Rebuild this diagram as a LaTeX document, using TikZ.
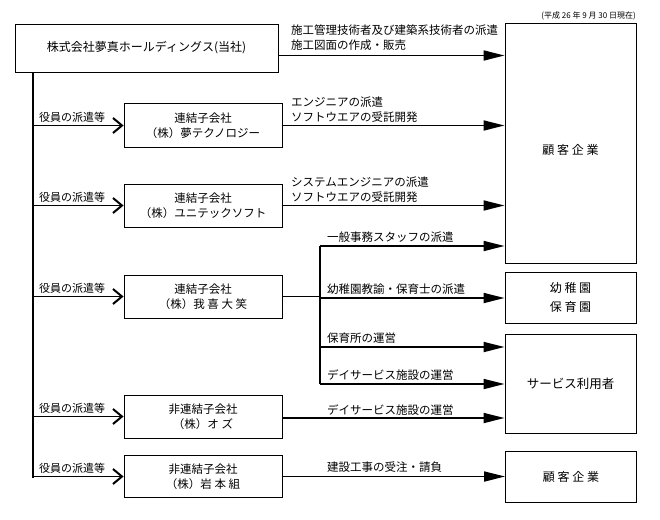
\documentclass[tikz,border=0pt]{standalone}
\usepackage{fontspec}
\setmainfont{Noto Sans CJK JP}
\usetikzlibrary{arrows.meta}
\begin{document}
\begin{tikzpicture}[x=1pt,y=-1pt,
  box/.style={draw,line width=0.9pt,inner sep=0pt,align=center,font=\fontsize{11.5}{15}\selectfont},
  lbl/.style={anchor=west,align=left,inner sep=0pt,font=\fontsize{11.5}{15}\selectfont},
  llbl/.style={anchor=south west,inner sep=0pt,font=\fontsize{11}{13}\selectfont},
  trunk/.style={line width=2.2pt},
  larrow/.style={line width=1.9pt,-{Straight Barb[length=9pt,width=15pt,line width=2pt]}},
  rarrow/.style={line width=1.7pt,-{Triangle[length=21pt,width=10pt]}},
  plain/.style={line width=1.4pt}]
\useasboundingbox (0,0) rectangle (660,519);
% date
\node[anchor=east,inner sep=0pt,font=\fontsize{8}{10}\selectfont] (date) at (636,16) {(平成 26 年 9 月 30 日現在)};
% parent
\node[box,minimum width=263pt,minimum height=48pt,font=\fontsize{12}{15}\selectfont] (top) at (146.5,48) {株式会社夢真ホールディングス(当社)};
% subsidiaries
\node[box,minimum width=158pt,minimum height=44pt] (b1) at (203,125.5) {連結子会社\\（株）夢テクノロジー};
\node[box,minimum width=158pt,minimum height=43pt] (b2) at (203,205.5) {連結子会社\\（株）ユニテックソフト};
\node[box,minimum width=158pt,minimum height=43pt] (b3) at (203,296.5) {連結子会社\\（株）我 喜 大 笑};
\node[box,minimum width=158pt,minimum height=43pt] (b4) at (203,416.5) {非連結子会社\\（株）オ ズ};
\node[box,minimum width=158pt,minimum height=42pt] (b5) at (203,476.5) {非連結子会社\\（株）岩 本 組};
% customers
\node[box,minimum width=131pt,minimum height=240pt] (c1) at (570.5,143) {};
\node[inner sep=0pt,font=\fontsize{12}{15}\selectfont] (c1t) at (570.5,150) {顧 客 企 業};
\node[box,minimum width=131pt,minimum height=51pt,font=\fontsize{12}{19}\selectfont] (c2) at (570.5,297.5) {幼 稚 園\\保 育 園};
\node[box,minimum width=131pt,minimum height=99pt,font=\fontsize{12.5}{15}\selectfont] (c3) at (570.5,383.5) {サービス利用者};
\node[box,minimum width=131pt,minimum height=51pt,font=\fontsize{12}{15}\selectfont] (c4) at (571,476.5) {顧 客 企 業};
% trunk
\coordinate (t0) at (33,72);
\coordinate (t1) at (33,125.5);
\coordinate (t2) at (33,205.5);
\coordinate (t3) at (33,296.5);
\coordinate (t4) at (33,416.5);
\coordinate (t5) at (33,476.5);
\draw[trunk] (t0) -- (33,477.5);
\foreach \i in {1,...,5} {
  \draw[larrow] (t\i) -- (b\i.west);
  \node[llbl] at ([xshift=6pt,yshift=3pt]t\i) {役員の派遣等};
}
% right arrows
\coordinate (a0) at (278,55.5);
\draw[rarrow] (a0) -- (a0 -| c1.west);
\node[lbl] at (291,37.5) {施工管理技術者及び建築系技術者の派遣\\施工図面の作成・販売};
\draw[rarrow] (b1.east) -- (b1.east -| c1.west);
\node[lbl] at (291,110) {エンジニアの派遣\\ソフトウエアの受託開発};
\draw[rarrow] (b2.east) -- (b2.east -| c1.west);
\node[lbl] at (291,189.5) {システムエンジニアの派遣\\ソフトウエアの受託開発};
% b3 branching
\coordinate (j) at (320,296.5);
\coordinate (jt) at (320,246);
\coordinate (ja) at (320,298);
\coordinate (jb) at (320,347);
\coordinate (jc) at (320,384);
\draw[plain] (b3.east) -- (j);
\draw[plain] (jt) -- (jc);
\draw[rarrow] (jt) -- (jt -| c1.west);
\draw[rarrow] (ja) -- (ja -| c2.west);
\draw[rarrow] (jb) -- (jb -| c3.west);
\draw[rarrow] (jc) -- (jc -| c3.west);
\node[lbl] at (327,237) {一般事務スタッフの派遣};
\node[lbl] at (327,289) {幼稚園教諭・保育士の派遣};
\node[lbl] at (327,338.5) {保育所の運営};
\node[lbl] at (327,375) {デイサービス施設の運営};
% b4, b5
\coordinate (a4) at (282,418);
\draw[rarrow] (b4.east |- a4) -- (a4 -| c3.west);
\node[lbl] at (327,410.5) {デイサービス施設の運営};
\draw[rarrow] (b5.east) -- (b5.east -| c4.west);
\node[lbl] at (327,467) {建設工事の受注・請負};
\end{tikzpicture}
\end{document}
